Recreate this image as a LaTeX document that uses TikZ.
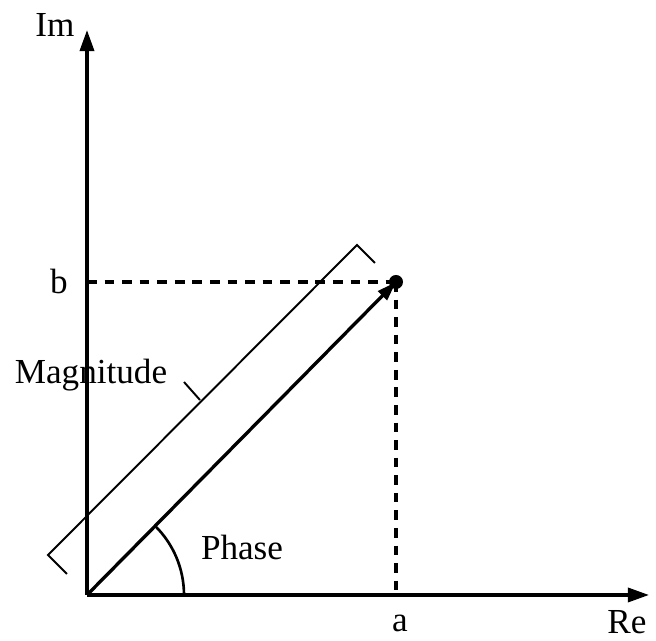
\documentclass[tikz,border=0pt]{standalone}
\usepackage{fontspec}
\setmainfont{Liberation Serif}
\usetikzlibrary{arrows.meta}
\begin{document}
\begin{tikzpicture}[x=0.02cm, y=0.02cm,
  axis/.style={black, line width=1.9pt, -{Triangle[length=12pt, width=8pt]}},
  dashline/.style={black, line width=1.9pt, dash pattern=on 5.5pt off 4.5pt},
  bracket/.style={black, line width=1.1pt},
  lbl/.style={font=\fontsize{20}{24}\selectfont, inner sep=0pt}]

\useasboundingbox (-87,-46) rectangle (569,595);

\coordinate (O) at (0,0);
\coordinate (imtip) at (0,565);
\coordinate (retip) at (562,0);
\coordinate (P) at (309,313);
\coordinate (Pa) at (309,0);
\coordinate (Pb) at (0,313);

% axes
\draw[axis] (O) -- (imtip);
\draw[axis] (O) -- (retip);

% dashed projections
\draw[dashline] (Pb) -- (P);
\draw[dashline] (P) -- (Pa);

% vector
\draw[black, line width=1.9pt, -{Triangle[length=11pt, width=7pt]}] (O) -- (P);
\fill[black] (P) circle (7);

% phase angle
\draw[black, line width=1.5pt] (97,0) arc (0:45.4:97);

% magnitude bracket
\coordinate (B1) at (-39,40);
\coordinate (B2) at (270,350);
\coordinate (T1) at (-20,21);
\coordinate (T2) at (288,332);
\coordinate (M) at (113,195);
\coordinate (Mend) at (97,213);
\draw[bracket] (T1) -- (B1) -- (B2) -- (T2);
\draw[bracket] (M) -- (Mend);

% labels
\node[lbl] (im) at (-32,570) {Im};
\node[lbl] (re) at (540,-27) {Re};
\node[lbl] (a) at (313,-28) {a};
\node[lbl] (b) at (-28,314) {b};
\node[lbl] (phase) at (155,48) {Phase};
\node[lbl] (mag) at (4,220) {Magnitude};

\end{tikzpicture}
\end{document}
